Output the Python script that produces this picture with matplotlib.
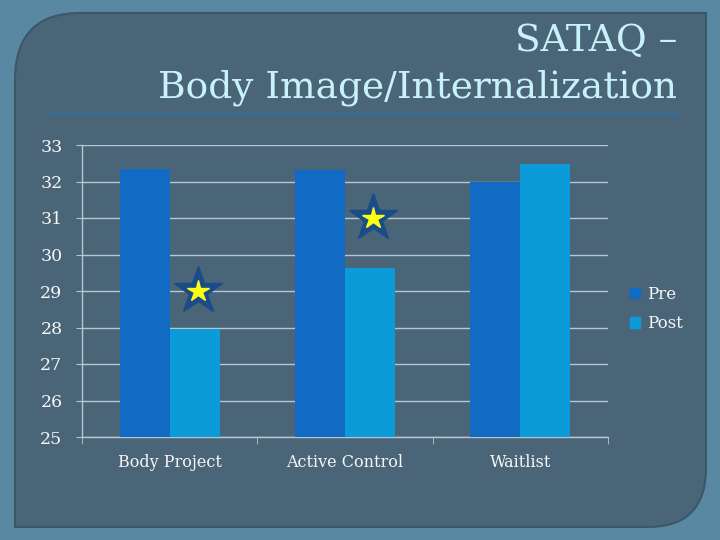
import numpy as np
import matplotlib
matplotlib.use("Agg")
import matplotlib.pyplot as plt
from matplotlib.path import Path
from matplotlib.patches import PathPatch, Patch

# chart data
groups = ["Body Project", "Active Control", "Waitlist"]
pre = [32.33, 32.32, 31.98]
post = [27.95, 29.62, 32.47]
series_names = ["Pre", "Post"]
# significance stars (group index, y value)
star_groups = [0, 1]
star_values = [29, 31]
y_ticks = list(range(25, 34))

title_line1 = "SATAQ –"
title_line2 = "Body Image/Internalization"

outer_col = "#5888a2"
panel_col = "#4a6577"
pre_col = "#116ac4"
post_col = "#0a9bd8"
grid_col = "#b8c6d0"
text_col = "#f6f6f6"
title_col = "#c8f2fa"
serif = ["DejaVu Serif"]

fig = plt.figure(figsize=(7.2, 5.4), dpi=100)
fig.patch.set_facecolor(outer_col)

# slide background, pixel coordinates
bg = fig.add_axes([0, 0, 1, 1], zorder=0)
bg.set_xlim(0, 720)
bg.set_ylim(540, 0)
bg.axis("off")
verts = [(15, 80), (15, 527), (648, 527), (706, 527), (706, 468),
         (706, 13), (80, 13), (15, 13), (15, 80), (15, 80)]
codes = [Path.MOVETO, Path.LINETO, Path.LINETO, Path.CURVE3, Path.CURVE3,
         Path.LINETO, Path.LINETO, Path.CURVE3, Path.CURVE3, Path.CLOSEPOLY]
bg.add_patch(PathPatch(Path(verts, codes), facecolor=panel_col,
                       edgecolor="#3d5668", lw=1.5))
bg.plot([48, 677], [113, 113], color="#3a6c94", lw=2)
bg.text(677, 51, title_line1, ha="right", va="baseline", fontsize=27,
        color=title_col, family=serif)
bg.text(677, 97, title_line2, ha="right", va="baseline", fontsize=27,
        color=title_col, family=serif)

# bar chart
ax = fig.add_axes([82 / 720, 1 - 437 / 540, 526 / 720, 292 / 540], zorder=1)
ax.set_facecolor("none")
x = np.arange(len(groups))
w = 0.285
ax.bar(x - w / 2, pre, w, bottom=0, color=pre_col, zorder=3, label=series_names[0])
ax.bar(x + w / 2, post, w, bottom=0, color=post_col, zorder=3, label=series_names[1])
ax.set_ylim(25, 33)
ax.set_xlim(-0.5, len(groups) - 0.5)
ax.set_yticks(y_ticks)
ax.set_yticklabels([str(t) for t in y_ticks], fontsize=12.5, color=text_col, family=serif)
ax.yaxis.grid(True, color=grid_col, lw=1, zorder=1)
ax.tick_params(axis="y", length=4, color=grid_col, pad=10)

ax.set_xticks(x)
ax.set_xticklabels(groups, fontsize=11.5, color=text_col, family=serif)
ax.set_xticks(np.arange(len(groups) + 1) - 0.5, minor=True)
ax.tick_params(axis="x", which="major", length=0, pad=12)
ax.tick_params(axis="x", which="minor", length=5, color=grid_col)

for s in ["top", "right"]:
    ax.spines[s].set_visible(False)
for s in ["left", "bottom"]:
    ax.spines[s].set_color(grid_col)
    ax.spines[s].set_linewidth(1)

# stars over the post bars
for g, v in zip(star_groups, star_values):
    ax.plot(x[g] + w / 2 + 0.02, v, marker="*", markersize=36, color="#1b4c8a",
            zorder=5, clip_on=False)
    ax.plot(x[g] + w / 2 + 0.02, v, marker="*", markersize=16, color="#ffff10",
            markeredgecolor="#ffff10", zorder=6, clip_on=False)

handles = [Patch(color=pre_col), Patch(color=post_col)]
fig.legend(handles, series_names, loc="center left",
           bbox_to_anchor=(615 / 720, 1 - 309 / 540), frameon=False,
           prop={"family": serif, "size": 12}, labelcolor=text_col,
           handlelength=0.6, handleheight=0.6, handletextpad=0.4,
           labelspacing=0.75)

fig.savefig("out.png", dpi=100, facecolor=fig.get_facecolor())
